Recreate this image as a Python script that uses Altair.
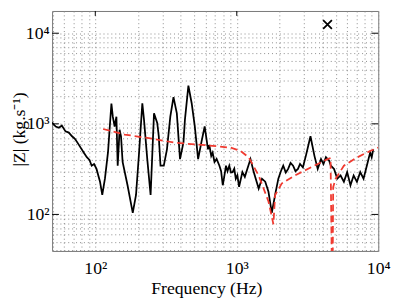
import altair as alt
import pandas as pd

# measured impedance (black)
freq_black = [49.5, 52.5, 55.3, 58, 61.6, 65, 68.5, 72, 76.2, 82.6, 87.1, 91, 94.3, 98, 102, 108, 112, 117, 123,
              130, 133, 137, 141, 144, 148.5, 152, 156, 169, 184, 194, 204, 215, 221, 233,
              246, 260, 274, 281, 289, 305, 321, 339, 357, 377, 397, 420, 430, 455, 480,
              505, 533, 562, 593, 626, 640, 660, 675, 696, 720, 754, 775, 796, 815, 839, 860, 885, 910,
              934, 960, 984, 1010, 1038, 1096, 1140,
              1187, 1250, 1318, 1370, 1428, 1507, 1589, 1675, 1768, 1866, 1967, 2050, 2130, 2220, 2307, 2400, 2500,
              2600, 2707, 2800, 2933, 3096, 3318, 3539, 3733, 3939, 4100, 4266, 4500, 4620, 4870, 5134, 5417,
              5715, 6029, 6360, 6699, 7068, 7459, 7870, 8302, 8759, 8983, 9220]
z_black = [1033, 935, 905, 960, 826, 800, 729, 680, 593, 486, 428, 400, 345, 360, 318, 230, 164, 248, 486,
           1675, 1200, 935, 1200, 345, 861, 729, 379, 210, 104, 164, 486, 1687, 1105, 408,
           164, 1305, 1025, 729, 345, 345, 523, 1200, 1973, 1305, 408, 624, 1105, 2642, 1687,
           935, 408, 624, 935, 523, 580, 443, 480, 379, 410, 345, 300, 210, 260, 345, 300, 345, 290,
           293, 320, 248, 270, 202, 293, 260,
           318, 408, 293, 240, 193, 248, 230, 178, 104, 164, 248, 300, 345, 290, 318, 370, 345,
           300, 318, 360, 330, 460, 729, 443, 318, 408, 360, 428, 391, 345, 318, 248, 269,
           229, 293, 210, 269, 229, 293, 248, 345, 482, 428, 523]

# model (red dashed)
freq_red = [113.6, 161, 233, 367, 626, 908, 1066, 1216, 1428, 1675, 1815, 1866, 2077, 2570,
            3539, 4378, 4600, 4735, 4745, 4800, 5000, 5715, 7068, 8759, 10000]
z_red = [877, 761, 700, 618, 578, 546, 501, 425, 269, 139, 78, 164, 219, 269,
         345, 408, 420, 10, 10, 200, 248, 345, 425, 501, 546]

marker_f = [4378]
marker_z = [12450]

grid_x = [50, 60, 70, 80, 90, 100, 200, 300, 400, 500, 600, 700, 800, 900,
          1000, 2000, 3000, 4000, 5000, 6000, 7000, 8000, 9000, 10000]
grid_y = [40, 50, 60, 70, 80, 90, 100, 200, 300, 400, 500, 600, 700, 800, 900,
          1000, 2000, 3000, 4000, 5000, 6000, 7000, 8000, 9000, 10000]
major_x = [100, 1000]
major_y = [100, 1000, 10000]

SERIF = "Liberation Serif"
xscale = alt.Scale(type="log", domain=[49.5, 10000], nice=False)
yscale = alt.Scale(type="log", domain=[39.5, 17600], nice=False)

lg = "round(log(datum.value)/LN10)"
label_expr = ("abs(log(datum.value)/LN10 - " + lg + ") < 0.001 ? '10' + (" + lg +
              " == 2 ? '²' : " + lg + " == 3 ? '³' : '⁴') : ''")

GRID = dict(grid=True, gridDash=[1, 3], gridColor="#8a8a8a", gridWidth=1)

xaxis = alt.Axis(values=grid_x, **GRID,
                 ticks=False, tickSize=0, domain=False, labelExpr=label_expr,
                 labelFont=SERIF, labelFontSize=18, labelPadding=9, labelOverlap=False,
                 labelFlush=False, labelColor="black",
                 title="Frequency (Hz)", titleFont=SERIF, titleFontSize=18,
                 titleFontWeight="normal", titleColor="black",
                 titleX=157.5, titleY=43, titleBaseline="alphabetic", titleAlign="center")
yaxis = alt.Axis(values=grid_y, **GRID,
                 ticks=False, tickSize=0, domain=False, labelExpr=label_expr,
                 labelFont=SERIF, labelFontSize=18, labelPadding=3, labelOverlap=False,
                 labelFlush=False, labelColor="black", labelBaseline="middle",
                 title="|Z| (kg.s⁻¹)", titleFont=SERIF, titleFontSize=18,
                 titleFontWeight="normal", titleColor="black", titleAngle=270,
                 titleX=-28, titleY=120.5, titleBaseline="alphabetic", titleAlign="center")

black_df = pd.DataFrame({"f": freq_black, "z": z_black})
red_df = pd.DataFrame({"f": freq_red, "z": z_red})
mk_df = pd.DataFrame({"f": marker_f, "z": marker_z})
mx_df = pd.DataFrame({"f": major_x})
my_df = pd.DataFrame({"z": major_y})

black = alt.Chart(black_df).mark_line(color="black", strokeWidth=1.8, clip=True).encode(
    x=alt.X("f:Q", scale=xscale, axis=xaxis),
    y=alt.Y("z:Q", scale=yscale, axis=yaxis),
    order=alt.Order("f:Q"),
)
red = alt.Chart(red_df).mark_line(color="#f03a30", strokeWidth=1.8, strokeDash=[7, 4], clip=True).encode(
    x=alt.X("f:Q", scale=xscale),
    y=alt.Y("z:Q", scale=yscale),
)
marker = alt.Chart(mk_df).mark_point(shape="M-1,-1L1,1M-1,1L1,-1", filled=False, color="black",
                                     size=80, strokeWidth=1.8, opacity=1).encode(
    x=alt.X("f:Q", scale=xscale),
    y=alt.Y("z:Q", scale=yscale),
)
left_ticks = alt.Chart(my_df).mark_rule(color="black", strokeWidth=1).encode(
    y=alt.Y("z:Q", scale=yscale), x=alt.value(0), x2=alt.value(7))
right_ticks = alt.Chart(my_df).mark_rule(color="black", strokeWidth=1).encode(
    y=alt.Y("z:Q", scale=yscale), x=alt.value(326), x2=alt.value(333))
top_ticks = alt.Chart(mx_df).mark_rule(color="black", strokeWidth=1).encode(
    x=alt.X("f:Q", scale=xscale), y=alt.value(0), y2=alt.value(5))

chart = alt.layer(black, red, marker, left_ticks, right_ticks, top_ticks).properties(
    width=333, height=245,
    autosize=alt.AutoSizeParams(type="none"),
    padding={"left": 45, "top": 0, "right": 13, "bottom": 47},
    background="white",
).configure_view(stroke="#777", strokeWidth=1)

chart.save("out.html", embed_options={"renderer": "svg", "actions": False})
